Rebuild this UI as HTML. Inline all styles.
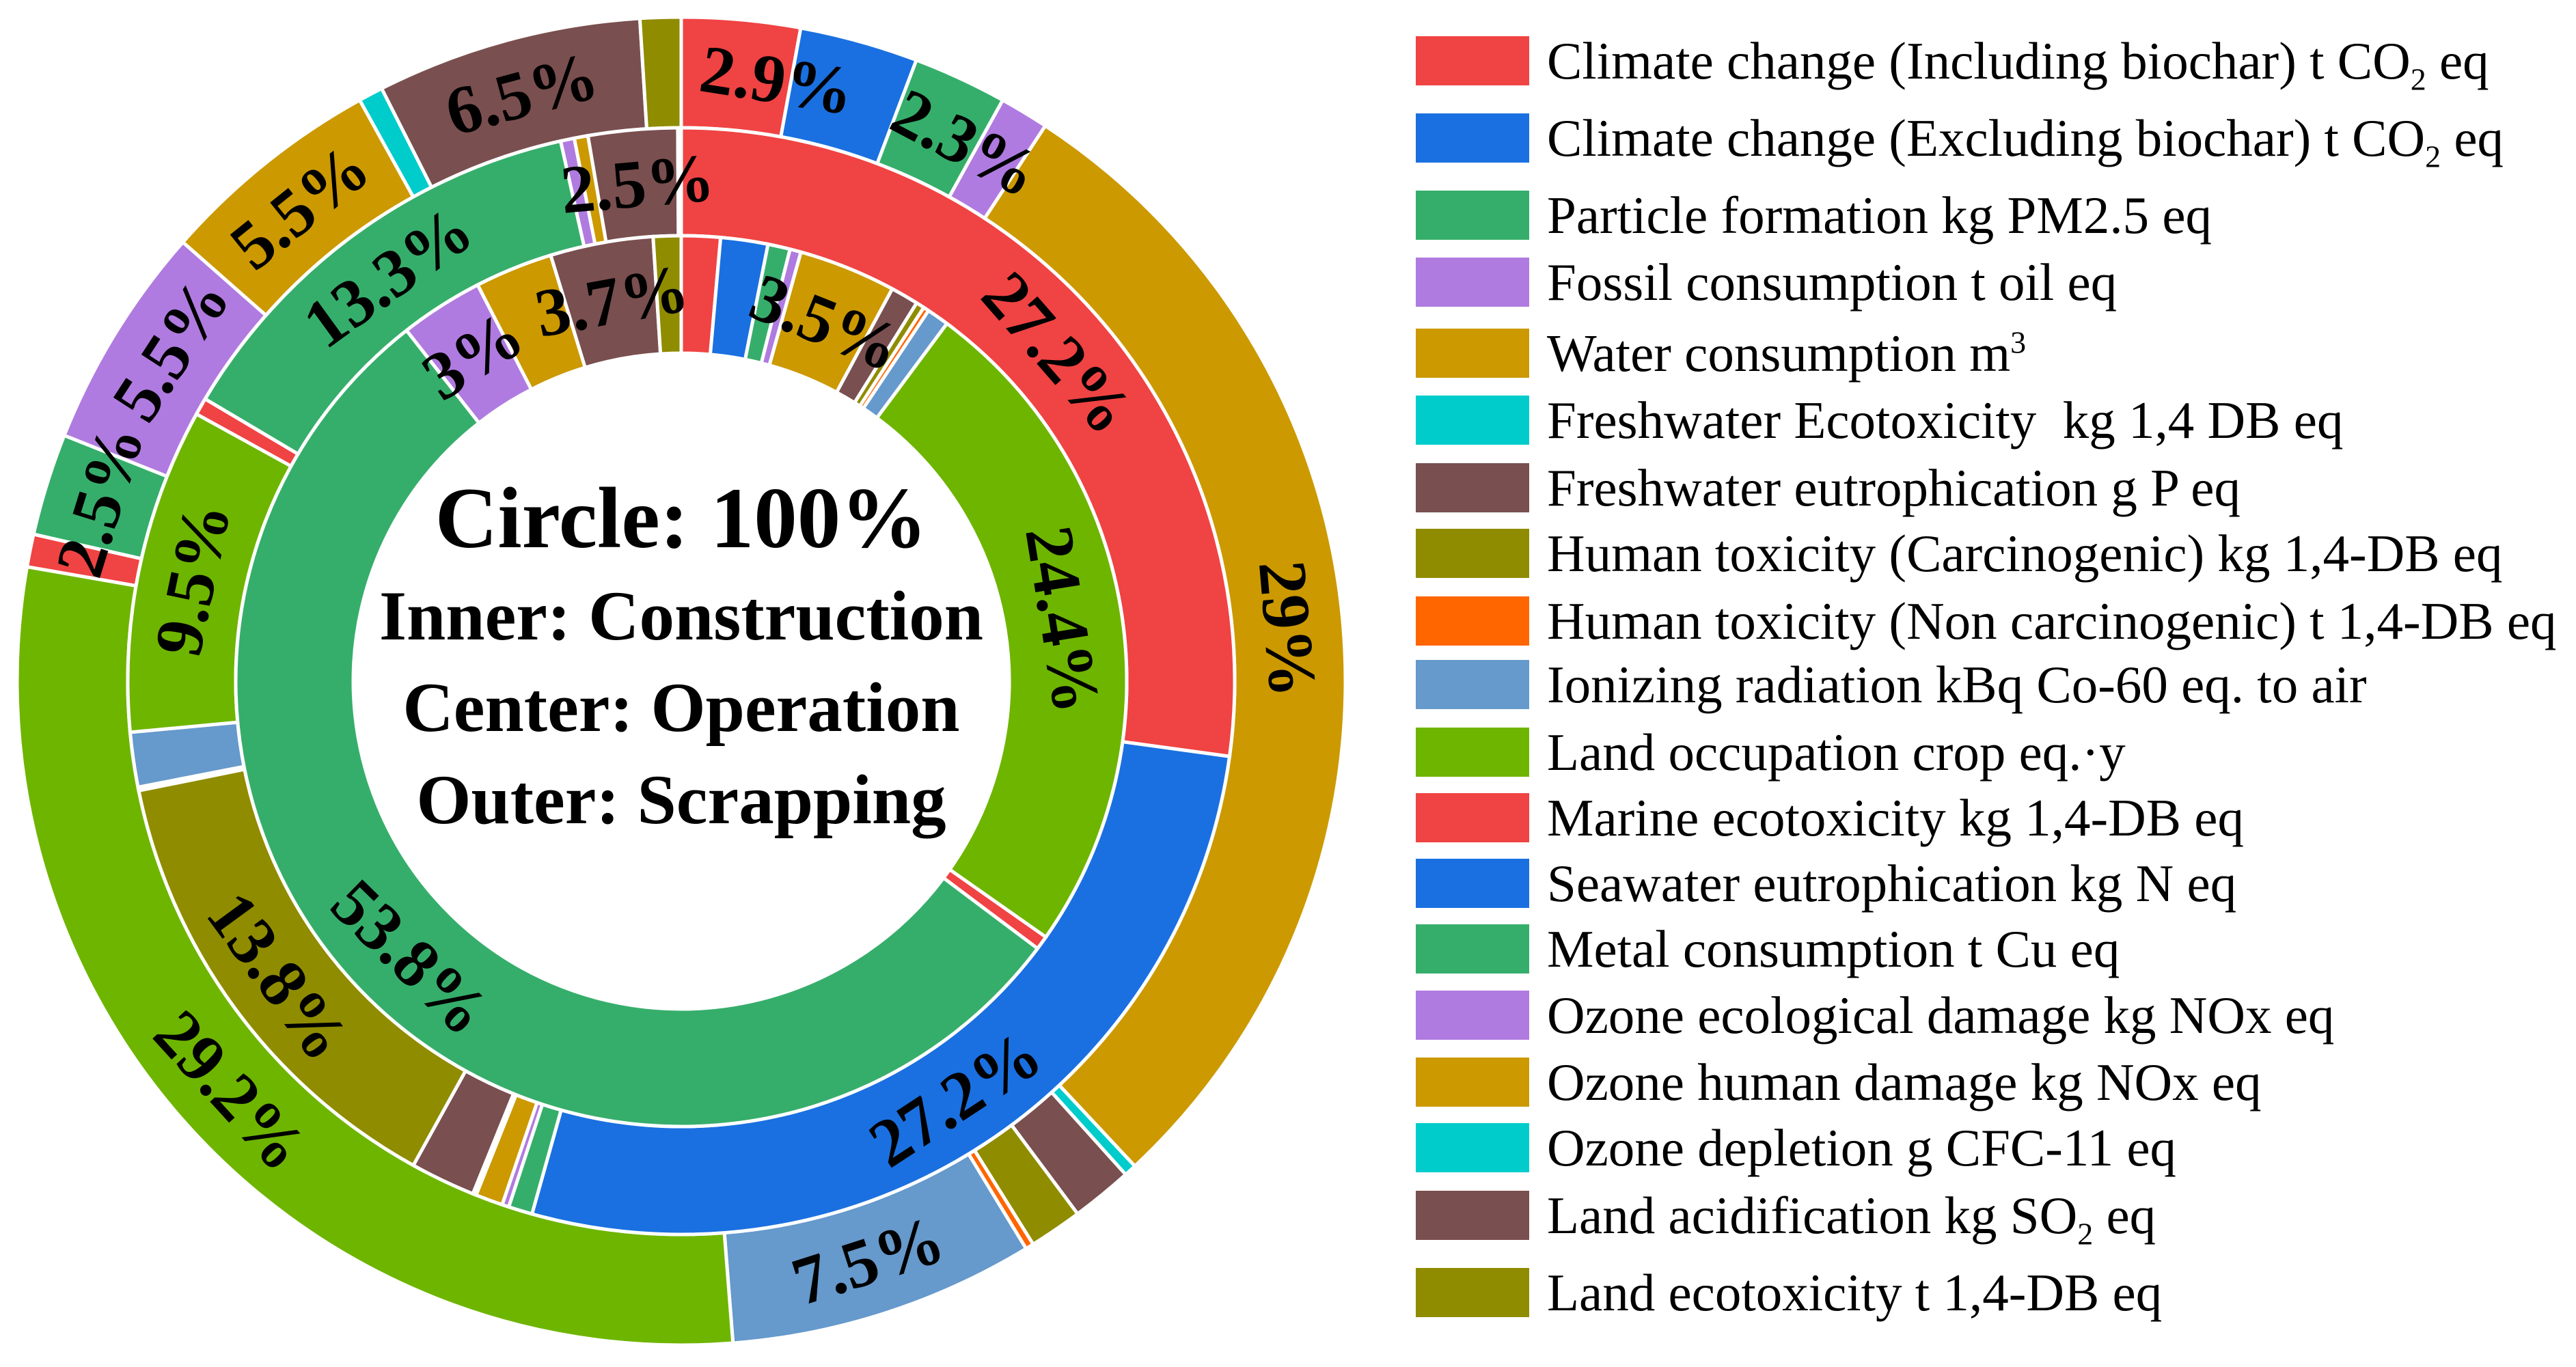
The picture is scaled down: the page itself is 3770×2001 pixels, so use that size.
<!DOCTYPE html>
<html><head><meta charset="utf-8">
<style>
body{margin:0;background:#fff;}
#wrap{position:relative;width:3770px;height:2001px;overflow:hidden;background:#fff;font-family:"Liberation Serif",serif;}
svg{position:absolute;left:0;top:0;}
.leg{position:absolute;left:2072px;height:72px;}
.box{position:absolute;left:0;top:0;width:166px;height:72px;}
.lt{position:absolute;left:192px;top:-8px;font-size:77px;white-space:nowrap;line-height:88px;color:#000;}
sub,sup{font-size:46px;line-height:0;}
</style></head><body>
<div id="wrap">
<svg id="chart" width="2000" height="2001"></svg>
<div id="legend"></div>
</div>
<script>
const categories=["Climate change (Including biochar) t CO<sub>2</sub> eq","Climate change (Excluding biochar) t CO<sub>2</sub> eq","Particle formation kg PM2.5 eq","Fossil consumption t oil eq","Water consumption m<sup>3</sup>","Freshwater Ecotoxicity&nbsp; kg 1,4 DB eq","Freshwater eutrophication g P eq","Human toxicity (Carcinogenic) kg 1,4-DB eq","Human toxicity (Non carcinogenic) t 1,4-DB eq","Ionizing radiation kBq Co-60 eq. to air","Land occupation crop eq.·y","Marine ecotoxicity kg 1,4-DB eq","Seawater eutrophication kg N eq","Metal consumption t Cu eq","Ozone ecological damage kg NOx eq","Ozone human damage kg NOx eq","Ozone depletion g CFC-11 eq","Land acidification kg SO<sub>2</sub> eq","Land ecotoxicity t 1,4-DB eq"];
const colors=["#F04343","#1A70E0","#36AE6B","#B07BE0","#CC9900","#00CCCC","#7A4F4F","#8F8C00","#FF6600","#6699CC","#6EB500","#F04343","#1A70E0","#36AE6B","#B07BE0","#CC9900","#00CCCC","#7A4F4F","#8F8C00"];
const innerValues=[1.4,1.7,0.8,0.4,3.5,0,1.0,0.3,0.2,0.8,24.4,0.5,0,53.8,3.0,2.8,0,3.7,1.0];
const centerValues=[27.2,27.2,0.7,0.2,0.8,0.1,1.9,13.8,0.1,1.6,9.5,0.5,0,13.0,0.4,0.4,0,2.6,0.1];
const outerValues=[2.9,2.9,2.3,1.2,29.0,0.3,1.5,1.3,0.2,7.5,29.2,0.8,0,2.5,5.5,5.5,0.6,6.5,1.0];
const innerLabels=["","","","","3.5%","","","","","","24.4%","","","53.8%","3%","","","3.7%",""];
const centerLabels=["27.2%","27.2%","","","","","","13.8%","","","9.5%","","","13.3%","","","","2.5%",""];
const outerLabels=["","2.9%","2.3%","","29%","","","","","7.5%","29.2%","","","2.5%","5.5%","5.5%","","6.5%",""];
const outerShift=[0,-6.5,3,0,0,0,0,0,0,0,0,0,0,0,1.5,0,0,0,0];

const NS="http://www.w3.org/2000/svg";
const svg=document.getElementById('chart');
const CX=997,CY=997;
function pt(r,a){const t=a*Math.PI/180;return [CX+r*Math.sin(t),CY-r*Math.cos(t)];}
function arcPath(r0,r1,a0,a1){
  const big=(a1-a0)>180?1:0;
  const p0=pt(r1,a0),p1=pt(r1,a1),p2=pt(r0,a1),p3=pt(r0,a0);
  return `M${p0[0]},${p0[1]}A${r1},${r1} 0 ${big} 1 ${p1[0]},${p1[1]}L${p2[0]},${p2[1]}A${r0},${r0} 0 ${big} 0 ${p3[0]},${p3[1]}Z`;
}
function ring(values,labels,r0,r1,name,shift){
  const g=document.createElementNS(NS,'g');
  
  
  svg.appendChild(g);
  const tot=values.reduce((a,b)=>a+b,0);
  let a=0;
  const texts=[];
  values.forEach((v,i)=>{
    const span=v/tot*360;
    if(v>0){
      const p=document.createElementNS(NS,'path');
      p.setAttribute('d',arcPath(r0,r1,a,a+span));
      p.setAttribute('fill',colors[i]);
      p.setAttribute('stroke','#fff');
      p.setAttribute('stroke-width','5');
      
      
      g.appendChild(p);
    }
    if(labels[i]){
      const m=a+span/2+(shift?shift[i]:0);const c=pt((r0+r1)/2,m);
      let rot=m; if(m>90&&m<270) rot=m-180;
      const t=document.createElementNS(NS,'text');
      t.setAttribute('x',c[0]);t.setAttribute('y',c[1]);
      t.setAttribute('text-anchor','middle');t.setAttribute('dominant-baseline','central');
      t.setAttribute('font-family','"Liberation Serif",serif');t.setAttribute('font-weight','bold');
      t.setAttribute('font-size','100');
      t.setAttribute('transform',`rotate(${rot} ${c[0]} ${c[1]})`);
      
      
      t.textContent=labels[i];
      texts.push(t);
    }
    a+=span;
  });
  return texts;
}
const allTexts=[].concat(ring(outerValues,outerLabels,810,972,'outer',outerShift),ring(centerValues,centerLabels,652,810,'center'),ring(innerValues,innerLabels,480,652,'inner'));
allTexts.forEach(t=>svg.appendChild(t));
const ct=[["Circle: 100%",801,127],["Inner: Construction",936,103],["Center: Operation",1070,103],["Outer: Scrapping",1205,103]];
ct.forEach((c,i)=>{
  const t=document.createElementNS(NS,'text');
  t.setAttribute('x',CX);t.setAttribute('y',c[1]);t.setAttribute('text-anchor','middle');
  t.setAttribute('font-family','"Liberation Serif",serif');t.setAttribute('font-weight','bold');
  t.setAttribute('font-size',c[2]);
  
  
  t.textContent=c[0];svg.appendChild(t);
});
const legY=[89,202,315,413,517,615,714,810,909,1002,1101,1197,1293,1389,1486,1584,1680,1779,1892];
const leg=document.getElementById('legend');
categories.forEach((c,i)=>{
  const d=document.createElement('div');d.className='leg';d.style.top=(legY[i]-36)+'px';
  
  
  d.innerHTML=`<div class="box" style="background:${colors[i]}"></div><div class="lt">${c}</div>`;
  leg.appendChild(d);
});
</script>
</body></html>
